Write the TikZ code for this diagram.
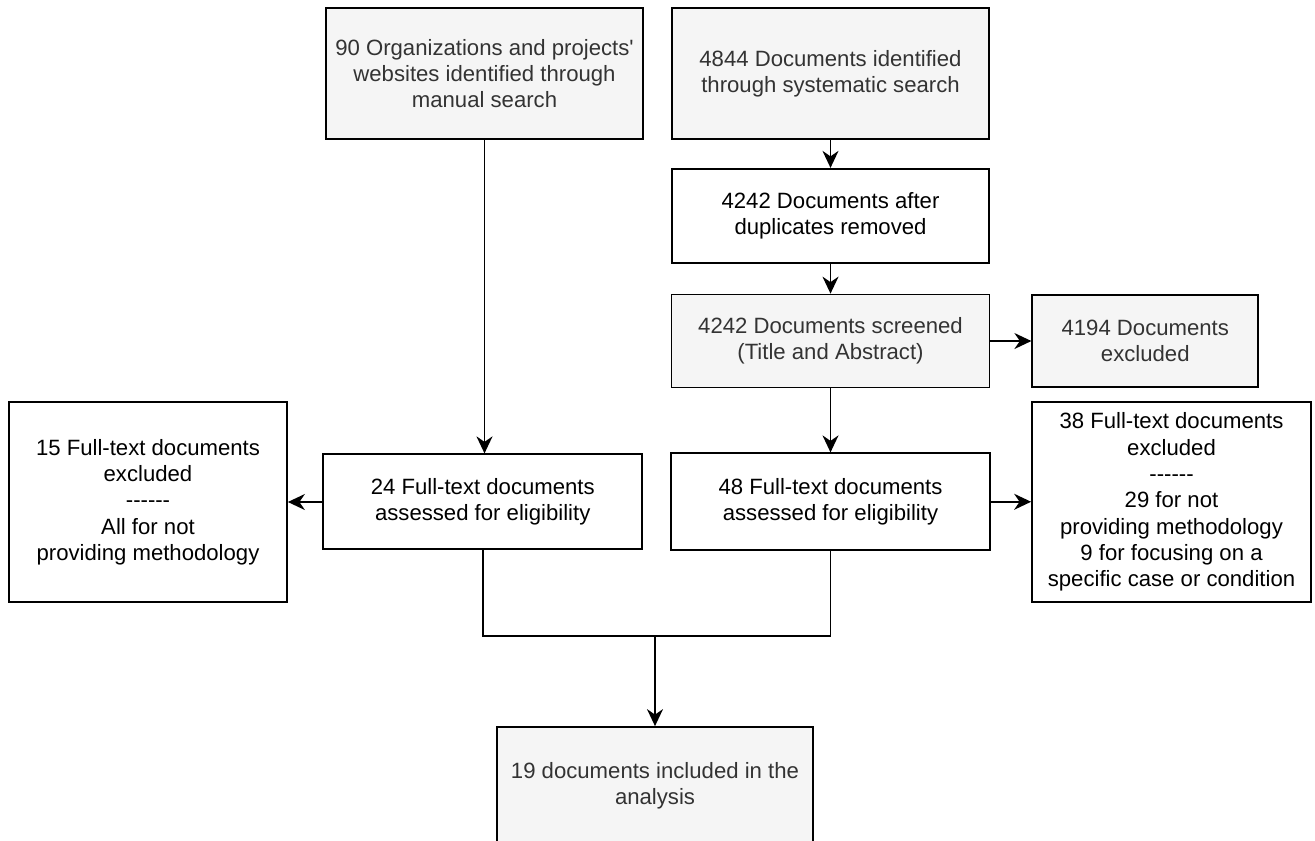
\documentclass[tikz,border=0pt]{standalone}
\usepackage{fontspec}
\setmainfont{Liberation Sans}[Ligatures=TeXOff]
\usetikzlibrary{arrows.meta,positioning}
\definecolor{boxgrey}{HTML}{F5F5F5}
\definecolor{textgrey}{HTML}{333333}
\tikzset{
    gbox/.style={rectangle, draw, line width=1pt, fill=boxgrey, text=textgrey, align=center, inner sep=2pt,
                 minimum width=6.34cm, minimum height=1.88cm, font=\fontsize{12.6}{15}\selectfont},
    wbox/.style={gbox, fill=white, text=black},
    post/.style={-{Stealth[length=3.4mm, width=3.2mm, inset=1.1mm]}, line width=1pt},
    link/.style={line width=1pt},
  }

\begin{document}
\begin{tikzpicture}
      \useasboundingbox (0,0) rectangle (26.3,-16.8);
      \node (idmanual) [gbox, minimum height=2.62cm] at (9.69,-1.47) {90 Organizations and projects'\\websites identified through\\manual search};
      \node (idsearch) [gbox, minimum height=2.62cm] at (16.61,-1.47) {4844 Documents identified\\through systematic search};
      \node (dedup) [wbox, below=0.56cm of idsearch] {4242 Documents after\\duplicates removed};
      \node (screened) [gbox, minimum width=6.36cm, minimum height=1.86cm, below=0.6cm of dedup] {4242 Documents screened\\(Title and Abstract)};
      \node (exclscreen) [gbox, minimum width=4.52cm, minimum height=1.84cm, right=0.82cm of screened] {4194 Documents\\excluded};
      \node (fullsearch) [wbox, minimum width=6.38cm, minimum height=1.94cm, below=1.28cm of screened] {48 Full-text documents\\assessed for eligibility};
      \node (fullmanual) [wbox, minimum width=6.38cm, minimum height=1.9cm, left=0.54cm of fullsearch] {24 Full-text documents\\assessed for eligibility};
      \node (exclmanual) [wbox, minimum width=5.56cm, minimum height=4cm] at (2.96,-10.04) {15 Full-text documents\\excluded\\------\\All for not\\providing methodology};
      \node (exclsearch) [wbox, minimum width=5.58cm, minimum height=4cm] at (23.43,-10.04) {38 Full-text documents\\excluded\\------\\29 for not\\providing methodology\\9 for focusing on a\\specific case or condition};
      \node (included) [gbox, minimum width=6.32cm, minimum height=2.36cm] at (13.1,-15.72) {19 documents included in the\\analysis};
      \coordinate (join) at (13.1,-12.72);

      \draw [post] (idmanual.south) -- (idmanual.south |- fullmanual.north);
      \draw [post] (idsearch) -- (dedup);
      \draw [post] (dedup) -- (screened);
      \draw [post] (screened) -- (exclscreen);
      \draw [post] (screened) -- (fullsearch);
      \draw [post] (fullmanual.west |- exclmanual.east) -- (exclmanual.east);
      \draw [post] (fullsearch.east) -- (fullsearch.east -| exclsearch.west);
      \draw [link] (fullmanual.south) |- (join) -| (fullsearch.south);
      \draw [post] (join) -- (included);
\end{tikzpicture}
\end{document}
